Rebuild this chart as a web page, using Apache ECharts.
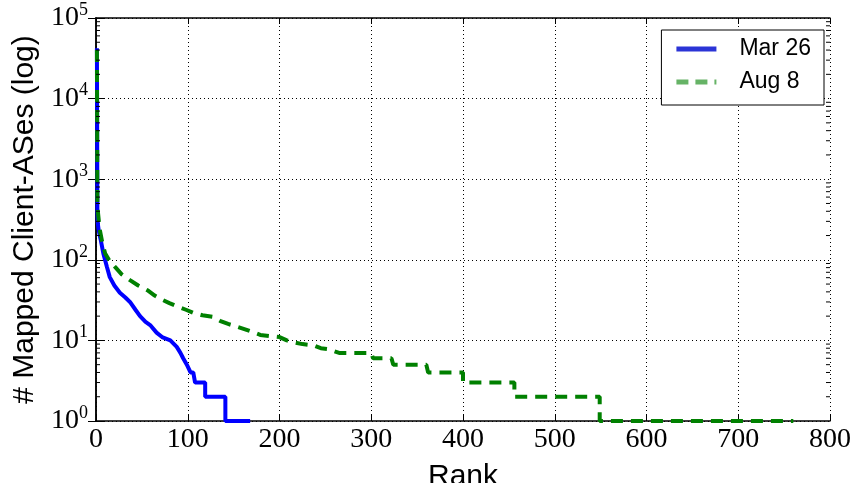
<!DOCTYPE html>
<html>
<head>
<meta charset="utf-8">
<script src="https://cdn.jsdelivr.net/npm/echarts@6/dist/echarts.min.js"></script>
<style>
  html, body { margin: 0; padding: 0; background: #fff; }
  #chart { width: 858px; height: 483px; }
</style>
</head>
<body>
<div id="chart"></div>
<script>
// Rank vs. number of mapped client ASes
const marRank = [1, 1.5, 2, 3, 5, 8, 12, 15, 20, 26, 32, 37, 43, 48, 54, 59, 66, 72, 81, 88, 92, 95, 99, 103, 106, 108, 119, 119, 141, 141, 168];
const marValue = [42000, 400, 280, 230, 180, 120, 81, 61, 48, 39, 34, 30, 24, 20, 17, 15.5, 12.5, 11, 10, 8.3, 7, 6, 5, 4, 4, 3, 3, 2, 2, 1, 1];

const augRank = [1, 1.5, 2, 4, 7, 10, 15, 21, 28, 37, 46, 56, 64, 72, 80, 90, 98, 106, 116, 127, 135, 144, 152, 160, 170, 179, 190, 200, 208, 215, 225, 237, 245, 253, 265, 300, 302, 322, 324, 360, 362, 400, 400, 456, 456, 549, 549, 760];
const augValue = [40000, 450, 400, 240, 160, 120, 96, 81, 66, 56, 48, 42, 36, 32, 29, 26, 24, 22, 20.5, 19.6, 17.5, 16, 15, 14, 12.8, 11.7, 11.3, 11, 10, 9.5, 9, 8.7, 8, 7.8, 7, 7, 6, 6, 5, 5, 4, 4, 3, 3, 2, 2, 1, 1];

const yMin = 1;
const yMax = 100000;
const seriesNames = ['Mar 26', 'Aug 8'];

// minor ticks of the log axis (2..9 in every decade)
const minorTicks = [];
for (let d = 1; d < yMax; d *= 10) {
    for (let k = 2; k <= 9; k++) minorTicks.push(d * k);
}

const zip = (xs, ys) => xs.map((x, i) => [x, ys[i]]);

const chart = echarts.init(document.getElementById('chart'));

const yLabelFmt = function (v) {
    const e = Math.round(Math.log10(v));
    return '{b|10}{s|' + e + '}';
};

const frameAxis = {
    axisLine: { show: true, lineStyle: { color: '#000', width: 1.5 } },
    axisLabel: { show: false },
    splitLine: { show: false }
};

chart.setOption({
    animation: false,
    backgroundColor: '#fff',
    grid: { left: 96, right: 28, top: 18, bottom: 62, containLabel: false, outerBoundsMode: 'none' },
    legend: {
        right: 34,
        top: 30,
        orient: 'vertical',
        backgroundColor: '#fff',
        borderColor: '#000',
        borderWidth: 1,
        borderRadius: 0,
        padding: [7, 13, 11, 15],
        itemGap: 9,
        itemWidth: 40,
        itemHeight: 14,
        textStyle: { fontFamily: 'Liberation Sans', fontSize: 23, lineHeight: 24, color: '#000', padding: [0, 0, 0, 18] },
        data: [
            { name: seriesNames[0], icon: 'path://M0,0 L40,0 L40,5 L0,5 Z' },
            { name: seriesNames[1], icon: 'path://M0,0 L12,0 L12,5 L0,5 Z M19,0 L31,0 L31,5 L19,5 Z M38,0 L40,0 L40,5 L38,5 Z' }
        ]
    },
    xAxis: [{
        type: 'value',
        min: 0,
        max: 800,
        interval: 100,
        name: 'Rank',
        nameLocation: 'middle',
        nameGap: 41,
        nameTextStyle: { fontFamily: 'Liberation Sans', fontSize: 30, color: '#000' },
        axisLine: { show: true, lineStyle: { color: '#000', width: 1.5 } },
        axisTick: { show: true, inside: true, length: 6, lineStyle: { color: '#000' } },
        axisLabel: { margin: 5, fontFamily: 'Liberation Serif', fontSize: 28, color: '#000' },
        splitLine: { show: true, lineStyle: { color: '#000', type: [1, 3], width: 1 } }
    }, Object.assign({
        type: 'value',
        position: 'top',
        min: 0,
        max: 800,
        interval: 100,
        axisTick: { show: true, inside: true, length: 6, lineStyle: { color: '#000' } }
    }, frameAxis)],
    yAxis: [{
        type: 'log',
        logBase: 10,
        min: yMin,
        max: yMax,
        name: '# Mapped Client-ASes (log)',
        nameLocation: 'middle',
        nameGap: 54,
        nameTextStyle: { fontFamily: 'Liberation Sans', fontSize: 30, color: '#000' },
        axisLine: { show: true, lineStyle: { color: '#000', width: 1.5 } },
        axisTick: { show: true, inside: true, length: 8, lineStyle: { color: '#000' } },
        axisLabel: {
            margin: 8,
            formatter: yLabelFmt,
            rich: {
                b: { fontFamily: 'Liberation Serif', fontSize: 28, color: '#000' },
                s: { fontFamily: 'Liberation Serif', fontSize: 18, color: '#000', padding: [0, 0, 16, 0] }
            }
        },
        splitLine: { show: true, lineStyle: { color: '#000', type: [1, 3], width: 1 } }
    }, Object.assign({
        type: 'log',
        logBase: 10,
        min: yMin,
        max: yMax,
        position: 'right',
        axisTick: { show: true, inside: true, length: 8, lineStyle: { color: '#000' } }
    }, frameAxis)],
    series: [
        {
            name: seriesNames[0],
            type: 'line',
            data: zip(marRank, marValue),
            showSymbol: false,
            symbol: 'none',
            color: 'rgba(20,30,210,0.9)',
            lineStyle: { color: '#0000ff', width: 4 },
            z: 3
        },
        {
            name: seriesNames[1],
            type: 'line',
            data: zip(augRank, augValue),
            showSymbol: false,
            symbol: 'none',
            color: 'rgba(0,128,0,0.6)',
            lineStyle: { color: '#008000', width: 4, type: [12, 8] },
            z: 4
        },
        {
            // minor log ticks on the left and right frame
            type: 'custom',
            silent: true,
            data: minorTicks.map(v => [0, v]),
            renderItem: function (params, api) {
                const v = api.value(1);
                const l = api.coord([0, v]);
                const r = api.coord([800, v]);
                return {
                    type: 'group',
                    children: [
                        { type: 'line', shape: { x1: l[0], y1: l[1], x2: l[0] + 4, y2: l[1] }, style: { stroke: '#000', lineWidth: 1 } },
                        { type: 'line', shape: { x1: r[0], y1: r[1], x2: r[0] - 4, y2: r[1] }, style: { stroke: '#000', lineWidth: 1 } }
                    ]
                };
            },
            z: 5
        }
    ]
});

window.addEventListener('resize', () => chart.resize());
</script>
</body>
</html>
